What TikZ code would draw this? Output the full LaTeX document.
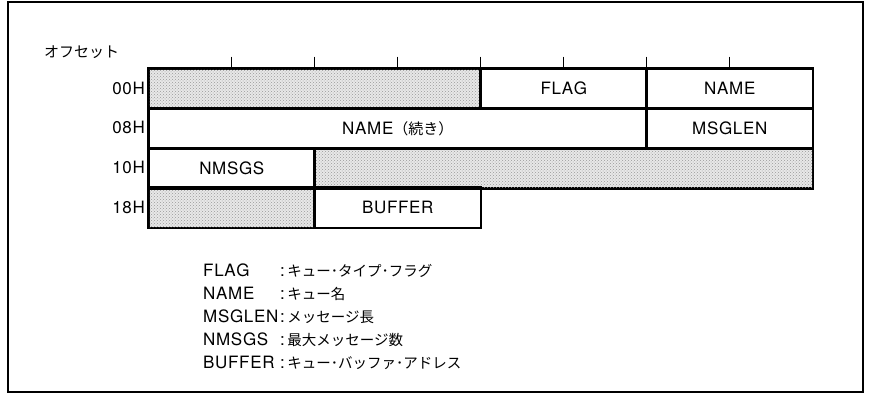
\documentclass[tikz,border=0pt]{standalone}
\usepackage{fontspec}
\setmainfont{TeX Gyre Heros}[Kerning=Off,LetterSpace=4]
\newfontfamily\jp{Noto Sans CJK JP}
\usetikzlibrary{patterns}
\begin{document}
\begin{tikzpicture}[x=1pt,y=-1pt,
  cell/.style={draw=black,line width=1.6pt,anchor=north west,inner sep=0pt,
    minimum height=39.75pt,font=\fontsize{17}{19}\selectfont},
  shade/.style={cell,fill=black!9,postaction={pattern=crosshatch dots,pattern color=black!40}},
  offs/.style={anchor=base east,inner sep=0pt,font=\fontsize{17}{19}\selectfont},
  tick/.style={line width=1pt},
  leg/.style={anchor=base west,inner sep=0pt,font=\fontsize{17}{19}\selectfont},
  legjp/.style={anchor=base west,inner sep=0pt,font=\fontsize{17}{19}\selectfont}]
\useasboundingbox (0,0) rectangle (869,399);
\draw[line width=1.2pt] (8,2) rectangle (863,392);
% offset label
\node[anchor=base west,inner sep=0pt,font=\jp\fontsize{15}{17}\selectfont] (off) at (44,57) {オフセット};
% ticks
\foreach \i/\x in {1/231,2/314,3/397,4/480,5/563,6/646,7/729}{
  \coordinate (t\i a) at (\x,56.5);
  \coordinate (t\i b) at (\x,68);
  \draw[tick] (t\i a) -- (t\i b);
}
% row 0
\node[shade,minimum width=332pt] (pad0) at (148,68) {};
\node[cell,minimum width=166pt] (flag) at (480,68) {FLAG};
\node[cell,minimum width=166pt] (name) at (646,68) {NAME};
% row 1
\node[cell,minimum width=498pt] (name2) at (148,107.75) {NAME{\jp\fontsize{15}{17}\selectfont （続き）}};
\node[cell,minimum width=166pt] (msglen) at (646,107.75) {MSGLEN};
% row 2
\node[cell,minimum width=166pt] (nmsgs) at (148,147.5) {NMSGS};
\node[shade,minimum width=498pt] (pad2) at (314,147.5) {};
% row 3
\node[shade,minimum width=166pt] (pad3) at (148,187.25) {};
\node[cell,minimum width=166pt] (buffer) at (314,187.25) {BUFFER};
% redraw borders on top
\foreach \n in {pad0,flag,name,name2,msglen,nmsgs,pad2,pad3,buffer}{
  \draw[line width=1.6pt] (\n.north west) rectangle (\n.south east);
}
% offsets
\node[offs] (o0) at (145,94) {00H};
\node[offs] (o1) at (145,133.75) {08H};
\node[offs] (o2) at (145,173.5) {10H};
\node[offs] (o3) at (145,213.25) {18H};
% legend
\foreach \k/\y/\a/\b in {1/276/FLAG/キュー･タイプ･フラグ,2/299/NAME/キュー名,3/322/MSGLEN/メッセージ長,4/345/NMSGS/最大メッセージ数,5/368/BUFFER/キュー･バッファ･アドレス}{
  \node[leg] (l\k) at (203,\y) {\a};
  \node[legjp] (j\k) at (280,\y) {:{\jp\fontsize{14.5}{17}\selectfont\,\b}};
}
\end{tikzpicture}
\end{document}
